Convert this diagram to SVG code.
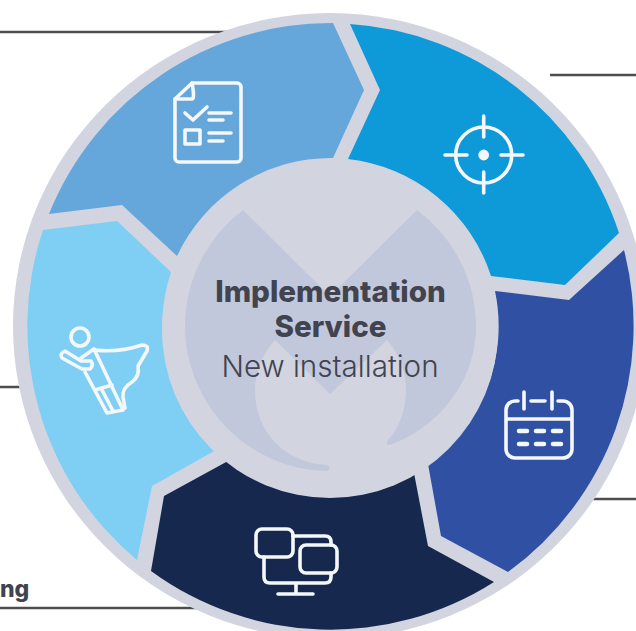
<svg xmlns="http://www.w3.org/2000/svg" width="636" height="631" viewBox="0 0 636 631">
<style>
.ln{stroke:#4d4d4f;stroke-width:2.6;fill:none}
.ic{fill:none;stroke:#f4f7fc;stroke-width:3.6;stroke-linecap:round;stroke-linejoin:round}
.t{font-family:Inter,"Liberation Sans",sans-serif;fill:#41434f;text-anchor:middle}
</style>
<rect width="636" height="631" fill="#fff"/>
<g id="connectors">
<path class="ln" d="M0 32H240M550 75H636M0 387H30M580 499H636M0 608H210"/>
</g>
<ellipse id="ring" cx="330" cy="326" rx="317" ry="313" fill="#d2d4e0"/>
<g id="node-plan">
<path fill="#65a7db" d="M49 214L122 205L177 256A170 170 0 0 1 333 158L364 90L333 23A304 304 0 0 0 49 214Z"/>
<g class="ic"><path d="M192 83H237A4 4 0 0 1 241 87V158A4 4 0 0 1 237 162H179A4 4 0 0 1 175 158V99Z"/><path d="M192 83Q195 99 192 99H175"/><path d="M185 113L193 120L207 107M209 113H231M209 120H223M209 133H231M209 141H223"/><rect x="185" y="130" width="15" height="14"/></g>
</g>
<g id="node-target">
<path fill="#0e99d9" d="M350 24L380 90L348 159A170 170 0 0 1 491 276L565 285L619 233A304 304 0 0 0 350 24Z"/>
<g class="ic"><circle cx="483.700" cy="155" r="28"/><path d="M483.700 116V137M483.700 172V193M445 155H467M501 155H523"/><circle cx="483.700" cy="155" r="3.600" fill="#f4f7fc"/></g>
</g>
<g id="node-calendar">
<path fill="#3050a4" d="M624 250L569 300L495 291A170 170 0 0 1 428 464L441 536L508 572A304 304 0 0 0 624 250Z"/>
<g class="ic"><path d="M518 401H515A9 9 0 0 0 506 410V449A9 9 0 0 0 515 458H563A9 9 0 0 0 572 449V410A9 9 0 0 0 563 401H558M531 401H545M524 392V409M552 392V409M506 419H572"/><path stroke-width="4.500" d="M519 431H527M536 431H544M553 431H561M519 444H527M536 444H544M553 444H561"/></g>
</g>
<g id="node-network">
<path fill="#16284e" d="M151 571L164 496L228 461A170 170 0 0 0 414 473L428 546L494 582A304 304 0 0 1 151 571Z"/>
<g class="ic"><rect x="256" y="529" width="37" height="28" rx="6"/><rect x="300" y="545" width="37" height="28" rx="6"/><path d="M293 536H325Q331 536 331 542V545M264 557V577Q264 583 270 583H325Q331 583 331 577V573M296 583V594M278 594H313"/></g>
</g>
<g id="node-hero">
<path fill="#7fcef4" d="M43 230L117 221L171 272A170 170 0 0 0 216 450L152 486L137 560A304 304 0 0 1 43 230Z"/>
<g class="ic"><circle cx="80" cy="337" r="9"/><path d="M65 351L81 361H91Q94 365 90 369H82L62 358Q59 354 65 351Z"/><path d="M81 358L94 349L123 410L107 413L85 372M95 390L112 385M102 390L113 411"/><path d="M95 350Q118 353 142 345Q149 345 147 351L138 366Q140 376 132 382Q122 388 123 397L125 408"/></g>
</g>
<g id="node-center">
<circle cx="330" cy="330" r="168" fill="#d2d4e0"/>
<path fill="#c2c8db" d="M243 210L330 296L417 210A146 146 0 0 1 476 326C476 383 437 428 390 445Q385 445 388 440C400 427 406 408 406 390Q406 362 387 340L330 394L275 340Q255 362 255 390C255 432 285 463 327 465Q332 468 328 471C250 471 185 405 185 326A146 146 0 0 1 243 210Z"/>
<text class="t" x="330.500" y="302" font-size="29.600" font-weight="800">Implementation</text>
<text class="t" x="330.500" y="337" font-size="29.600" font-weight="800">Service</text>
<text class="t" x="330" y="377" font-size="29.600" font-weight="300">New installation</text>
</g>
<text id="cut-label" x="0" y="597" font-family="Inter,'Liberation Sans',sans-serif" font-size="23" font-weight="800" fill="#41434f">ng</text>
</svg>
